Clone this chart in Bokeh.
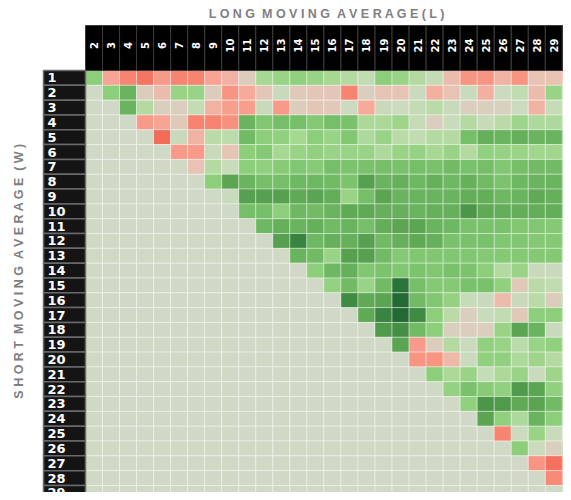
import math
from bokeh.plotting import figure
from bokeh.models import Range1d, ColumnDataSource
from bokeh.embed import file_html
from bokeh.resources import INLINE
from bokeh.core.properties import value

# ---------------- data ----------------
long_windows = list(range(2, 31))    # L (columns)
short_windows = list(range(1, 30))   # W (rows)

# score per cell, row W, columns L = W+1 .. 30  (negative = red, positive = green)
w01 = [3, -2, -3, -3.6, -2.3, -3, -3, -2, -1.5, -0.5, 2, 2.5, 2.8, 2.5, 2, 1.5, 1, 3, 2.5, 1.5, 0.8, -1.2, -2.5, -2.5, -1.5, -2.5, -1, -1, -2.5]
w02 = [3, 4.5, -0.5, -1.2, 2.5, 2.5, -0.5, -2.5, -1.8, -0.8, 0.5, -0.6, -0.8, -0.8, -3, -0.4, -0.9, -0.9, 0.4, -1.6, -1, 0.4, -1.6, 0.3, 1, -1.2, 2.5, 1.5]
w03 = [4.5, 1.5, -0.4, -0.4, 0.8, -1.5, -2.2, -2.2, 0.5, -2.3, -0.5, -0.8, -0.7, 0.3, -1.8, 0.5, 0.3, 0.9, 1.3, 0.5, -0.4, -0.4, -0.3, 0.3, -1.5, 0.7, 0.7]
w04 = [-2.3, -2, -0.6, -3, -3, -2.6, 4.5, 3.5, 4, 4, 3.3, 4, 3.8, 1.8, 1.8, 2.3, 0.7, -0.4, 0.6, 1.5, 0.7, 1.3, 2.3, 1.7, 1.7, 1.5]
w05 = [-4, 0.5, -1.5, 1.3, 1.2, 4.2, 3, 2.8, 2, 3, 2.5, 3.5, 1.7, 2.5, 1.3, 1, 1.5, 1.5, 4, 4.7, 4.5, 4.7, 4.5, 4.5, 4.3]
w06 = [-2.3, -2.3, 0.5, -0.9, 3, 3.3, 2, 2.5, 2.8, 2.5, 2.5, 2.5, 1.7, 2.5, 2.6, 2, 2.5, 1.5, 2.8, 2.6, 2.5, 2.2, 2.2, 2.5]
w07 = [-1, 1.5, 0.6, 3, 2.8, 3.2, 3.5, 3.2, 4, 3.7, 3.8, 4, 3.8, 4, 3.8, 4.2, 3.8, 4, 3.5, 4, 4.2, 4.2, 3.8]
w08 = [3, 5.2, 4.5, 4, 4, 4.3, 4.3, 4.2, 3.7, 5.5, 4.5, 4.7, 4.3, 4.7, 4.3, 4.7, 4.2, 3.7, 4.3, 4.5, 4.5, 4]
w09 = [0.4, 5.5, 5.5, 5.5, 5, 5.3, 4.8, 2.5, 4, 5.3, 4.5, 4.5, 4.5, 4.5, 4.8, 4.8, 4.3, 4.5, 5, 4.7, 4.3]
w10 = [4, 4, 3, 4.3, 4.2, 4.5, 5, 5, 4.7, 4.7, 4.5, 4.7, 4.7, 6, 5, 4.8, 4.8, 4.8, 4.8, 4.5]
w11 = [4.3, 4.7, 4.5, 4.7, 4.2, 4.5, 4, 4.8, 5.2, 5.2, 4.5, 4.3, 3.8, 3.8, 3.8, 3.5, 3.5, 3.3, 3.3]
w12 = [5.5, 6.8, 4.3, 4.7, 4.7, 5.5, 4.2, 4.7, 5, 4.7, 3.8, 3.8, 3.8, 3.5, 3.5, 3.3, 3.3, 3]
w13 = [4.5, 4.2, 2.5, 5.5, 5.5, 4.2, 3.3, 3.5, 3.5, 3.5, 3.5, 3.3, 3.3, 3.3, 3.3, 3.3, 2]
w14 = [3, 4.3, 4.7, 3.5, 3.7, 3.5, 3.7, 3.5, 3.8, 3.7, 3, 1.5, 2.5, 0.5, 0.5, 0.5]
w15 = [2.7, 4.2, 2.5, 4.2, 7.5, 4, 3.3, 3.3, 3.8, 3.8, 2.8, -0.6, 1.3, 1, 1]
w16 = [6.5, 5, 5.3, 8, 4.2, 3.5, 2.7, 0.7, 0.5, -1.2, 0.5, 1.3, -0.5, 2.5]
w17 = [5, 6.8, 8, 6.5, 3, 1.3, -0.4, 0.6, 1, -0.6, 3, 3, 2.7]
w18 = [5.8, 6.3, 4.2, 3, -0.4, -0.4, -0.4, 2.5, 5.3, 4.5, 0.5, 1.7]
w19 = [5.3, -2.3, -0.5, 1.5, 0.4, 2.8, 2.5, 1.2, 2.5, 2.8, 1.8]
w20 = [-2.5, -2.5, -1.3, 0.4, 2.8, 2.8, 1.7, 2.3, 1.5, 1.3]
w21 = [3, 1.8, 2.5, 0.7, 1.8, 2.5, 0.4, 2.3, 2.5]
w22 = [2.7, 3.8, 3.2, 2.8, 5.8, 5.2, 2.8, 5]
w23 = [2.8, 6, 5.8, 5, 5.3, 4.2, 4.5]
w24 = [5.3, 2.8, 1.7, 4.5, 3, 1.5]
w25 = [-3, 0.3, 2.5, 0.6, 0.8]
w26 = [3, 0.4, -0.4, 2.8]
w27 = [-2.5, -3.8, -3.5]
w28 = [-2.8, -3.3]
w29 = [2.7]

rows = [w01, w02, w03, w04, w05, w06, w07, w08, w09, w10, w11, w12, w13, w14, w15,
        w16, w17, w18, w19, w20, w21, w22, w23, w24, w25, w26, w27, w28, w29]

x_title = "LONG MOVING AVERAGE(L)"
y_title = "SHORT MOVING AVERAGE (W)"

# ---------------- colour scale ----------------
EMPTY = "#d0d9c5"
anchors = [
    (-4.0, (242, 108, 88)),
    (-3.0, (247, 132, 112)),
    (-2.0, (248, 164, 148)),
    (-1.0, (232, 194, 178)),
    (-0.4, (218, 206, 190)),
    (0.0, (208, 217, 197)),
    (1.0, (194, 220, 178)),
    (2.0, (166, 216, 146)),
    (3.0, (140, 206, 122)),
    (4.0, (118, 190, 104)),
    (5.0, (96, 170, 86)),
    (6.0, (76, 150, 72)),
    (7.0, (52, 128, 62)),
    (8.0, (34, 105, 52)),
]


def score_color(v):
    if v <= anchors[0][0]:
        c = anchors[0][1]
    elif v >= anchors[-1][0]:
        c = anchors[-1][1]
    else:
        for (a, ca), (b, cb) in zip(anchors[:-1], anchors[1:]):
            if a <= v <= b:
                t = (v - a) / (b - a)
                c = tuple(round(ca[i] + (cb[i] - ca[i]) * t) for i in range(3))
                break
    return "#%02x%02x%02x" % c


xs, ys, cols = [], [], []
for w, row in zip(short_windows, rows):
    for L in long_windows:
        xs.append(L)
        ys.append(w)
        if L > w:
            cols.append(score_color(row[L - w - 1]))
        else:
            cols.append(EMPTY)
cells = ColumnDataSource(dict(x=xs, y=ys, color=cols))

# ---------------- geometry ----------------
FIG_W, FIG_H = 563, 492
CW, CH = 17.03, 14.82          # pixel size of one cell
COL0_LEFT, ROW0_TOP = 85, 70   # pixel position of first cell

x0 = long_windows[0] - 0.5 - COL0_LEFT / CW
x1 = x0 + FIG_W / CW
y0 = short_windows[0] - 0.5 - ROW0_TOP / CH
y1 = y0 + FIG_H / CH


def fx(px):
    return x0 + px / CW


def fy(py):
    return y0 + py / CH


p = figure(width=FIG_W, height=FIG_H, output_backend="svg", toolbar_location=None,
           x_range=Range1d(x0, x1), y_range=Range1d(y1, y0),
           x_axis_location=None, y_axis_location=None, min_border=0)
p.grid.visible = False
p.outline_line_color = None
p.background_fill_color = "white"
p.border_fill_color = "white"

# heat cells
p.rect(x="x", y="y", width=1, height=1, source=cells, fill_color="color",
       line_color="white", line_alpha=0.38, line_width=1)

# column header
h_top = fy(25)
h_bot = short_windows[0] - 0.5
p.rect(x=long_windows, y=(h_top + h_bot) / 2, width=1, height=h_bot - h_top,
       fill_color="black", line_color="#3c3c3c", line_width=1)
p.text(x=long_windows, y=fy(45), text=[str(v) for v in long_windows], angle=math.pi / 2,
       text_align="center", text_baseline="middle", text_color="white",
       text_font=value("DejaVu Sans"), text_font_style="bold", text_font_size="10px")

# row header
r_left = fx(43)
r_right = long_windows[0] - 0.5
p.rect(x=(r_left + r_right) / 2, y=short_windows, width=r_right - r_left, height=1,
       fill_color="#141414", line_color="#6a6a6a", line_width=1.5)
p.text(x=fx(47), y=short_windows, text=[str(v) for v in short_windows],
       text_align="left", text_baseline="middle", text_color="white",
       text_font=value("DejaVu Sans"), text_font_style="bold", text_font_size="13px")


def spaced(s):
    words = s.split(" ")
    return "\u00a0\u00a0".join(" ".join(word) for word in words)


p.text(x=[fx(327)], y=[fy(13)], text=[spaced(x_title)], text_align="center",
       text_baseline="middle", text_color="#7f7f7f", text_font=value("Liberation Sans"),
       text_font_style="bold", text_font_size="12.5px")
p.text(x=[fx(18)], y=[fy(270)], text=[spaced(y_title)], angle=math.pi / 2,
       text_align="center", text_baseline="middle", text_color="#7f7f7f",
       text_font=value("Liberation Sans"), text_font_style="bold", text_font_size="12.5px")

open("out.html", "w").write(file_html(p, INLINE))
